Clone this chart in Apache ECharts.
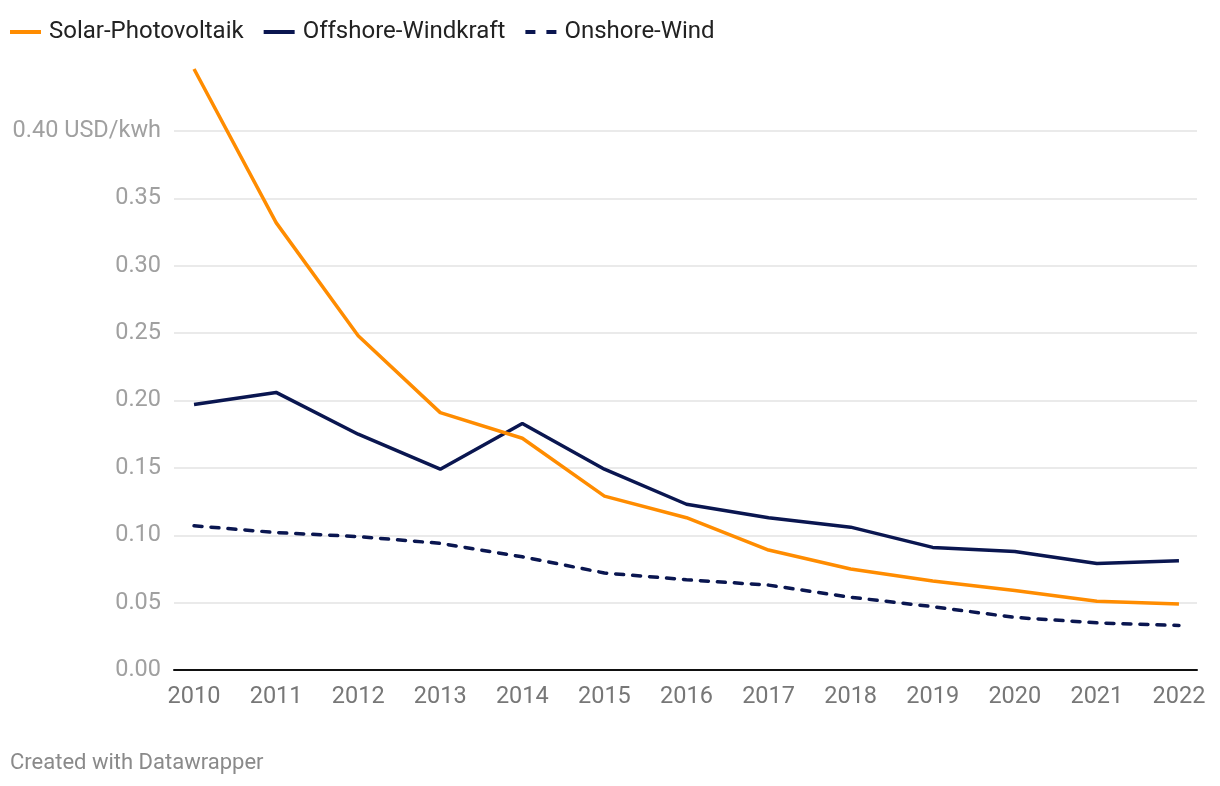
<!DOCTYPE html>
<html>
<head>
<meta charset="utf-8">
<style>
html,body{margin:0;padding:0;background:#fff;}
#chart{width:1220px;height:786px;}
#foot{position:absolute;left:10px;top:749px;font-family:Roboto,sans-serif;font-size:22px;color:#8a8a8a;}
</style>
<script src="https://cdn.jsdelivr.net/npm/echarts@6/dist/echarts.min.js"></script>
</head>
<body>
<div id="chart"></div>
<div id="foot">Created with Datawrapper</div>
<script>
const years = [2010, 2011, 2012, 2013, 2014, 2015, 2016, 2017, 2018, 2019, 2020, 2021, 2022];
const solar = [0.446, 0.332, 0.248, 0.191, 0.172, 0.129, 0.113, 0.089, 0.075, 0.066, 0.059, 0.051, 0.049];
const offshore = [0.197, 0.206, 0.175, 0.149, 0.183, 0.149, 0.123, 0.113, 0.106, 0.091, 0.088, 0.079, 0.081];
const onshore = [0.107, 0.102, 0.099, 0.094, 0.084, 0.072, 0.067, 0.063, 0.054, 0.047, 0.039, 0.035, 0.033];
const seriesNames = ['Solar-Photovoltaik', 'Offshore-Windkraft', 'Onshore-Wind'];
const yUnit = 'USD/kwh';

const ORANGE = '#ff8c00';
const NAVY = '#0a1650';
const pairs = arr => years.map((y, i) => [y, arr[i]]);

const chart = echarts.init(document.getElementById('chart'), null, {renderer: 'canvas'});
chart.setOption({
  animation: false,
  textStyle: {fontFamily: 'Roboto'},
  grid: {left: 174, right: 23, top: 131, bottom: 116, containLabel: false},
  legend: {
    left: 5, top: 15,
    itemWidth: 31, itemHeight: 14, itemGap: 20,
    textStyle: {fontSize: 24, color: '#222', fontFamily: 'Roboto', padding: [0, 0, 0, 3]},
    data: [
      {name: seriesNames[0], icon: 'path://M0,6 L31,6 L31,10 L0,10 Z', itemStyle: {color: ORANGE}},
      {name: seriesNames[1], icon: 'path://M0,6 L31,6 L31,10 L0,10 Z', itemStyle: {color: NAVY}},
      {name: seriesNames[2], icon: 'path://M0,6 L10,6 L10,10 L0,10 Z M21,6 L31,6 L31,10 L21,10 Z', itemStyle: {color: NAVY}}
    ]
  },
  xAxis: {
    type: 'value',
    min: 2009.756, max: 2022.22,
    axisLine: {show: true, lineStyle: {color: '#111', width: 2}},
    axisTick: {show: false},
    splitLine: {show: false},
    axisLabel: {
      customValues: years,
      formatter: v => String(Math.round(v)),
      fontSize: 23.5, color: '#777', margin: 15, fontFamily: 'Roboto'
    }
  },
  yAxis: {
    type: 'value',
    min: 0, max: 0.4, interval: 0.05,
    axisLine: {show: false},
    axisTick: {show: false},
    splitLine: {show: true, lineStyle: {color: '#e3e3e3', width: 1.5}},
    axisLabel: {
      fontSize: 23.5, color: '#a0a0a0', margin: 13, fontFamily: 'Roboto',
      formatter: v => Math.abs(v - 0.4) < 1e-9 ? v.toFixed(2) + ' ' + yUnit : v.toFixed(2)
    }
  },
  series: [
    {name: seriesNames[0], type: 'line', data: pairs(solar), symbol: 'none', clip: false,
     lineStyle: {color: ORANGE, width: 3.5}, itemStyle: {color: ORANGE}, z: 3},
    {name: seriesNames[1], type: 'line', data: pairs(offshore), symbol: 'none', clip: false,
     lineStyle: {color: NAVY, width: 3.5}, itemStyle: {color: NAVY}, z: 2},
    {name: seriesNames[2], type: 'line', data: pairs(onshore), symbol: 'none', clip: false,
     lineStyle: {color: NAVY, width: 3.5, type: [8, 9], cap: 'round'}, itemStyle: {color: NAVY}, z: 2}
  ]
});
</script>
</body>
</html>
